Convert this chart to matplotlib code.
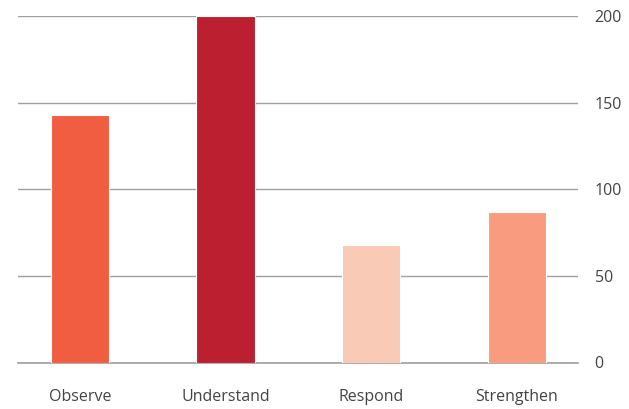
import matplotlib
matplotlib.use("Agg")
import matplotlib.pyplot as plt

categories = ["Observe", "Understand", "Respond", "Strengthen"]
values = [143, 200, 68, 87]
colors = ["#F05D41", "#BC2030", "#F9CAB6", "#F99B7E"]
yticks = [0, 50, 100, 150, 200]

plt.rcParams["font.family"] = ["Open Sans", "DejaVu Sans"]

fig = plt.figure(figsize=(6.29, 4.09), dpi=100)
ax = fig.add_axes([18/629, 1-362.5/409, (578-18)/629, (362.5-16)/409])
ax.set_axisbelow(True)
ax.yaxis.grid(True, color="#A0A0A0", linewidth=1.0)
ax.bar(range(len(categories)), values, width=0.40, color=colors, edgecolor="white", linewidth=0.8, zorder=3)
ax.set_xlim(-0.425, 3.42)
ax.set_ylim(0, 200)
ax.set_yticks(yticks)
ax.yaxis.tick_right()
ax.set_xticks(range(len(categories)))
ax.set_xticklabels(categories)
for s in ["top", "right", "left"]:
    ax.spines[s].set_visible(False)
ax.spines["bottom"].set_color("#A0A0A0")
ax.spines["bottom"].set_linewidth(1.2)
ax.tick_params(axis="x", length=0, pad=19, labelsize=11.5, labelcolor="#444444")
ax.tick_params(axis="y", length=0, pad=12, labelsize=11.5, labelcolor="#444444")
fig.savefig("out.png", dpi=100)
